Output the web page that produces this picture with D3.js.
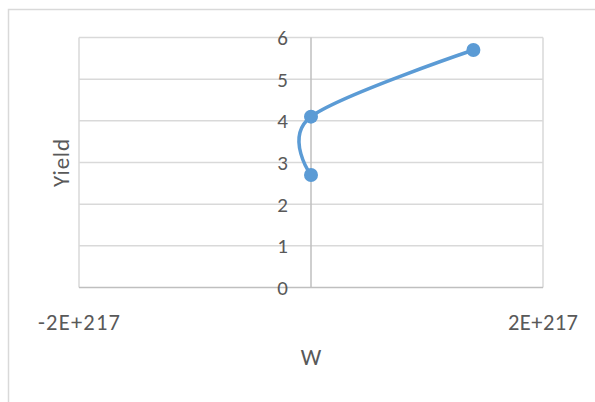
<!DOCTYPE html>
<html>
<head>
<meta charset="utf-8">
<script src="https://cdn.jsdelivr.net/npm/d3@7"></script>
<style>
  html, body { margin: 0; padding: 0; background: #fff; }
  svg { display: block; }
  text { font-family: Calibri, Carlito, Lato, "Liberation Sans", sans-serif; fill: #595959; }
</style>
</head>
<body>
<svg id="chart" width="595" height="402"></svg>
<script>
// Series: W vs Yield
const wValues = [0, 0, 1.4e217];
const yieldValues = [2.7, 4.1, 5.7];

// Axis ticks
const xTicks = [-2e217, 0, 2e217];
const xTickLabels = ["-2E+217", "", "2E+217"];
const yTicks = [0, 1, 2, 3, 4, 5, 6];

const svg = d3.select("#chart");

// Outer chart frame
svg.append("rect")
  .attr("x", 8.5).attr("y", 9.5)
  .attr("width", 620).attr("height", 420)
  .attr("fill", "#fff").attr("stroke", "#d9d9d9").attr("stroke-width", 1.5);

const x = d3.scaleLinear().domain([-2e217, 2e217]).range([79, 543]);
const y = d3.scaleLinear().domain([0, 6]).range([287.5, 37.5]);

const grid = svg.append("g");
// Horizontal gridlines
grid.selectAll("line.h").data(yTicks.filter(d => d !== 0)).enter().append("line")
  .attr("x1", x(-2e217)).attr("x2", x(2e217))
  .attr("y1", d => y(d)).attr("y2", d => y(d))
  .attr("stroke", "#d9d9d9").attr("stroke-width", 1.5);
// Vertical gridlines
grid.selectAll("line.v").data(xTicks.filter(d => d !== 0)).enter().append("line")
  .attr("x1", d => x(d)).attr("x2", d => x(d))
  .attr("y1", y(6)).attr("y2", y(0))
  .attr("stroke", "#d9d9d9").attr("stroke-width", 1.5);

// Axis lines crossing at zero
svg.append("line")
  .attr("x1", x(-2e217)).attr("x2", x(2e217))
  .attr("y1", y(0)).attr("y2", y(0))
  .attr("stroke", "#bfbfbf").attr("stroke-width", 1.5);
svg.append("line")
  .attr("x1", x(0)).attr("x2", x(0))
  .attr("y1", y(6)).attr("y2", y(0))
  .attr("stroke", "#bfbfbf").attr("stroke-width", 1.5);

// Y tick labels beside the vertical axis
svg.append("g").selectAll("text").data(yTicks).enter().append("text")
  .attr("x", x(0) - 23).attr("y", d => y(d))
  .attr("dy", "0.36em")
  .attr("text-anchor", "end")
  .attr("font-size", 21)
  .text(d => d);

// X tick labels below the plot
svg.append("g").selectAll("text").data(xTicks).enter().append("text")
  .attr("x", d => x(d)).attr("y", 322)
  .attr("dy", "0.36em")
  .attr("text-anchor", "middle")
  .attr("font-size", 22.5)
  .attr("textLength", (d, i) => xTickLabels[i] ? (xTickLabels[i].length === 7 ? 82 : 70) : null)
  .attr("lengthAdjust", "spacing")
  .text((d, i) => xTickLabels[i]);

// Axis titles
svg.append("text")
  .attr("x", x(0)).attr("y", 357).attr("dy", "0.36em")
  .attr("text-anchor", "middle").attr("font-size", 23)
  .text("W");
svg.append("text")
  .attr("transform", "translate(61,163) rotate(-90)")
  .attr("dy", "0.36em")
  .attr("text-anchor", "middle").attr("font-size", 23)
  .attr("textLength", 48).attr("lengthAdjust", "spacing")
  .text("Yield");

// Smoothed series line
const pts = wValues.map((w, i) => [w, yieldValues[i]]);
const line = d3.line()
  .x(d => x(d[0])).y(d => y(d[1]))
  .curve(d3.curveCardinal.tension(0));
svg.append("path")
  .datum(pts)
  .attr("d", line)
  .attr("fill", "none")
  .attr("stroke", "#5b9bd5")
  .attr("stroke-width", 3.5)
  .attr("stroke-linecap", "round");

// Markers
svg.append("g").selectAll("circle").data(pts).enter().append("circle")
  .attr("cx", d => x(d[0])).attr("cy", d => y(d[1]))
  .attr("r", 7)
  .attr("fill", "#5b9bd5");
</script>
</body>
</html>
